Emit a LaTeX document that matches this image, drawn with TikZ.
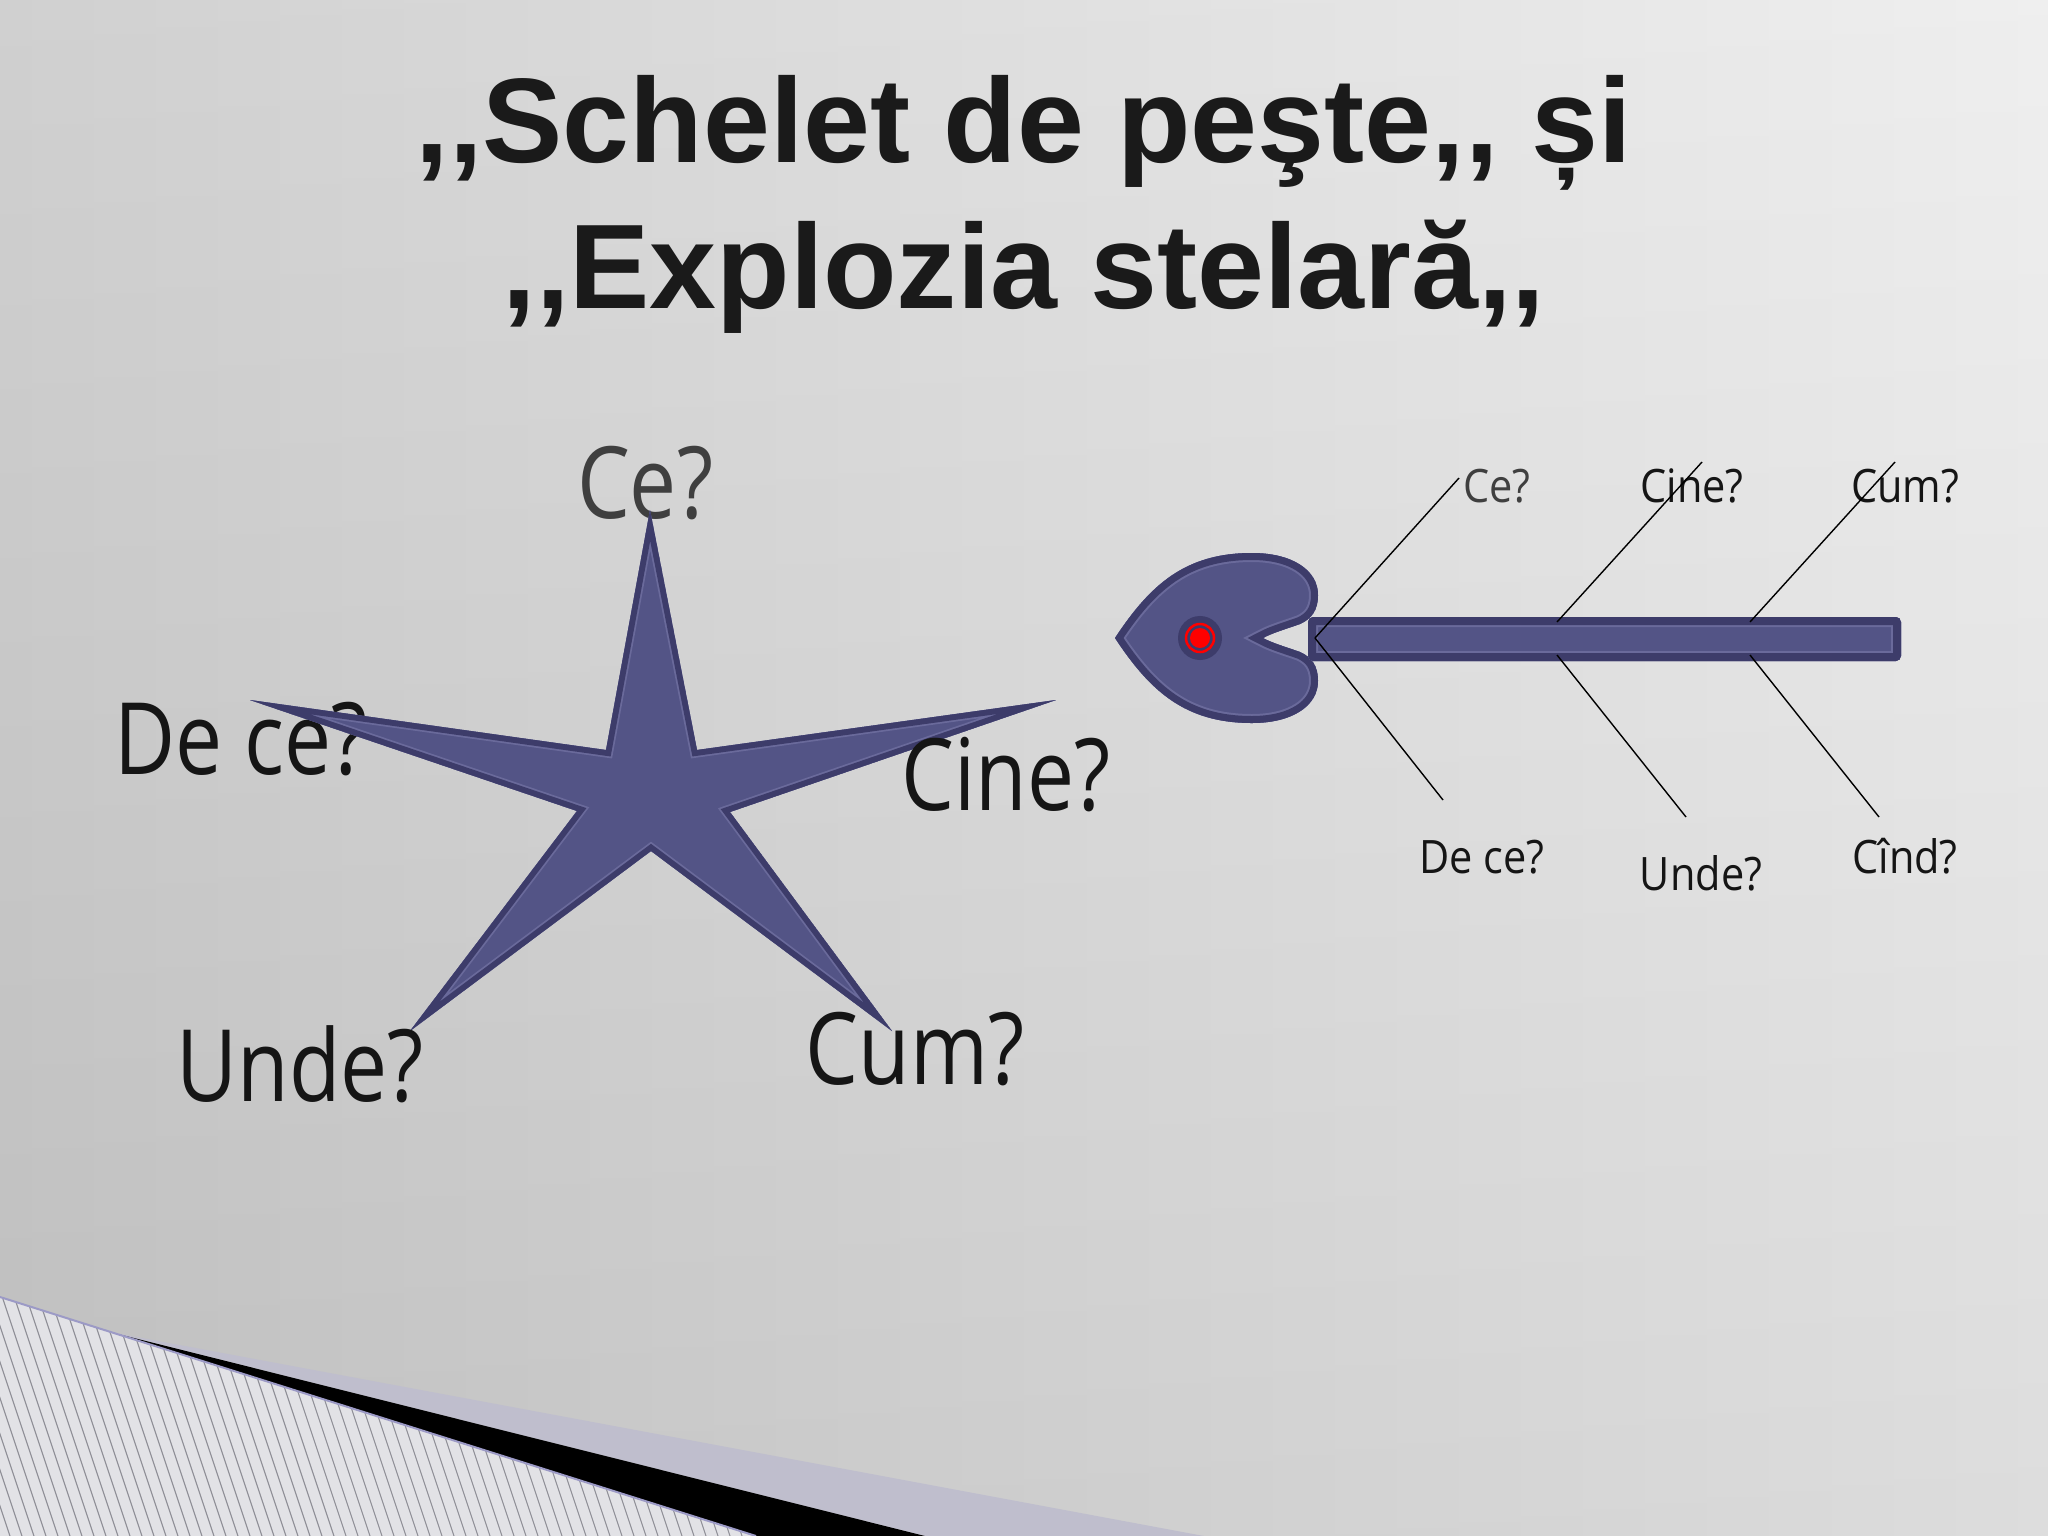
\documentclass[tikz,border=0pt]{standalone}
\usepackage{fontspec}
\newfontfamily\titlefont{Liberation Sans}[Ligatures=TeXOff]
\newfontfamily\labfont{Open Sans}[FakeStretch=0.84]
\newfontfamily\fishfont{Open Sans}[FakeStretch=0.9]
\definecolor{bgL}{HTML}{CDCDCD}
\definecolor{bgM}{HTML}{E2E2E2}
\definecolor{bgR}{HTML}{EEEEEE}
\definecolor{starfill}{HTML}{535486}
\definecolor{stardark}{HTML}{3D3C6A}
\definecolor{starline}{HTML}{6A6A9B}
\definecolor{labgray}{HTML}{3F3F3F}
\definecolor{labblack}{HTML}{151515}
\definecolor{titlecol}{HTML}{1A1A1A}
\definecolor{lav}{HTML}{BFBECD}
\definecolor{lavline}{HTML}{9C9AC6}
\definecolor{stripebg}{HTML}{E2E2E6}
\definecolor{stripeln}{HTML}{8E8E96}
\definecolor{eyered}{HTML}{FF0000}
\tikzset{
  titletext/.style={anchor=base, text=titlecol, font=\titlefont\bfseries\fontsize{34.2}{41}\selectfont},
  starlab/.style={anchor=base, text=labblack, font=\labfont\fontsize{28.4}{34}\selectfont, inner sep=0pt},
  fishlab/.style={anchor=base, text=labblack, font=\fishfont\fontsize{13.1}{16}\selectfont, inner sep=0pt},
  bone/.style={draw=black, line width=0.014cm},
}
\begin{document}
\begin{tikzpicture}[x=0.01cm, y=-0.01cm]
\useasboundingbox (0,0) rectangle (2048,1536);
% background
\shade[left color=bgL, middle color=bgM, right color=bgR] (0,0) rectangle (2048,1536);
\shade[top color=white, bottom color=black, opacity=0.07] (0,0) rectangle (2048,1536);

% bottom decoration
\fill[stripebg] (0,1297) -- (756,1536) -- (0,1536) -- cycle;
\begin{scope}
  \clip (0,1297) -- (756,1536) -- (0,1536) -- cycle;
  \foreach \k in {-110,...,70} {
    \draw[stripeln, line width=0.011cm] ({12*\k},1290) -- ({12*\k+82},1536);
  }
\end{scope}
\fill[lav] (110,1332) -- (1204,1536) -- (925,1536) -- cycle;
\fill[black] (110,1332) -- (925,1536) -- (756,1536) -- cycle;
\draw[lavline, line width=0.02cm] (0,1297) -- (756,1536);

% title
\node[titletext] (t1) at (1024,162) {,\kern0pt,Schelet de peşte,\kern0pt, și};
\node[titletext] (t2) at (1024,308) {,\kern0pt,Explozia stelară,\kern0pt,};

% star labels behind
\node[starlab, text=labgray] (sCe) at (645,518) {Ce?};
\node[starlab] (sDece) at (241,774) {De ce?};

% star
\coordinate (s1) at (650,510);
\coordinate (s2) at (697,750);
\coordinate (s3) at (1056,700);
\coordinate (s4) at (730,812);
\coordinate (s5) at (892,1031);
\coordinate (s6) at (651,851);
\coordinate (s7) at (410,1031);
\coordinate (s8) at (577,811);
\coordinate (s9) at (250,700);
\coordinate (s10) at (606,750);
\def\starpath{(s1) -- (s2) -- (s3) -- (s4) -- (s5) -- (s6) -- (s7) -- (s8) -- (s9) -- (s10) -- cycle}
\begin{scope}
  \clip \starpath;
  \fill[starfill] \starpath;
  \draw[starline, line width=0.15cm] \starpath;
  \draw[stardark, line width=0.115cm] \starpath;
\end{scope}

\node[starlab] (sCine) at (1006,810) {Cine?};
\node[starlab] (sUnde) at (300,1101) {Unde?};
\node[starlab] (sCum) at (915,1084) {Cum?};

% fish head
\def\heartpath{(1115,638) .. controls (1150,585) and (1185,553) .. (1252,553)
  .. controls (1292,553) and (1318,570) .. (1318,595)
  .. controls (1318,611) and (1311,619) .. (1300,624)
  .. controls (1286,629) and (1272,633) .. (1263,638)
  .. controls (1272,643) and (1286,647) .. (1300,652)
  .. controls (1311,657) and (1318,665) .. (1318,681)
  .. controls (1318,706) and (1292,723) .. (1252,723)
  .. controls (1185,723) and (1150,691) .. (1115,638) -- cycle}
\begin{scope}
  \clip \heartpath;
  \fill[starfill] \heartpath;
  \draw[starline, line width=0.18cm] \heartpath;
  \draw[stardark, line width=0.14cm] \heartpath;
\end{scope}
\fill[stardark] (1200,638) circle[radius=0.22cm];
\draw[eyered, line width=0.025cm] (1200,638) circle[radius=0.14cm];
\fill[eyered] (1200,638) circle[radius=0.10cm];

% spine
\def\spinepath{[rounded corners=0.05cm] (1308,617) rectangle (1901,661)}
\begin{scope}
  \clip \spinepath;
  \fill[starfill] \spinepath;
  \draw[starline, line width=0.20cm] \spinepath;
  \draw[stardark, line width=0.16cm] \spinepath;
\end{scope}

% fish labels
\node[fishlab, text=labgray] (fCe) at (1497,502) {Ce?};
\node[fishlab] (fCine) at (1692,502) {Cine?};
\node[fishlab] (fCum) at (1905,502) {Cum?};
\node[fishlab] (fDece) at (1482,873) {De ce?};
\node[fishlab] (fUnde) at (1701,890) {Unde?};
\node[fishlab] (fCind) at (1905,873) {Cînd?};

% bones
\coordinate (b1) at (1315,638);
\coordinate (b1u) at (1459,478);
\coordinate (b1d) at (1443,800);
\coordinate (b2t) at (1557,622);
\coordinate (b2u) at (1702,462);
\coordinate (b2b) at (1557,655);
\coordinate (b2d) at (1686,817);
\coordinate (b3t) at (1750,622);
\coordinate (b3u) at (1895,462);
\coordinate (b3b) at (1750,655);
\coordinate (b3d) at (1879,817);
\draw[bone] (b1) -- (b1u);
\draw[bone] (b1) -- (b1d);
\draw[bone] (b2t) -- (b2u);
\draw[bone] (b2b) -- (b2d);
\draw[bone] (b3t) -- (b3u);
\draw[bone] (b3b) -- (b3d);
\end{tikzpicture}
\end{document}
